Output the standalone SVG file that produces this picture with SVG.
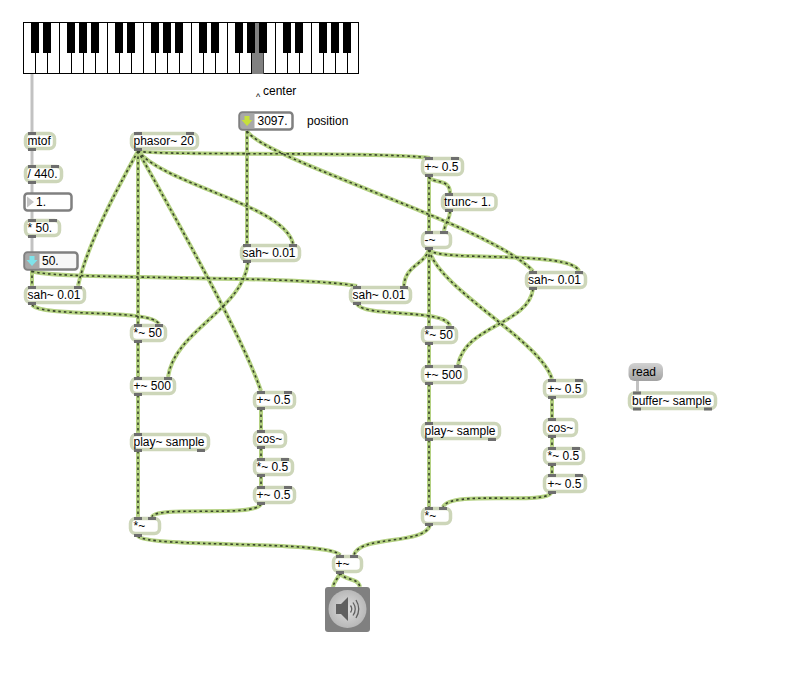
<svg xmlns="http://www.w3.org/2000/svg" width="785" height="675" viewBox="0 0 785 675">
<style>
text{font-family:"Liberation Sans",Arial,sans-serif;font-size:12px;fill:#000}
.b{fill:#fff;stroke:#cdd6b9;stroke-width:3.5}
.f{fill:#fff;stroke:#808080;stroke-width:2.5}
.p{fill:#6e6e6e}
.w{fill:#fff;stroke:#000;stroke-width:1}
.k{fill:#000}
.ln{stroke:#000;stroke-width:1;fill:none}
.sigbase{fill:none;stroke:#b4d182;stroke-width:4}
.sigdash{fill:none;stroke:#37432a;stroke-width:1.6;stroke-dasharray:2.5 3}
.ctl{fill:none;stroke:#c2c2c2;stroke-width:3}
</style>
<defs>
<linearGradient id="rd" x1="0" y1="0" x2="0" y2="1"><stop offset="0" stop-color="#d2d2d2"/><stop offset="1" stop-color="#a2a2a2"/></linearGradient>
<radialGradient id="sp" cx="0.5" cy="0.5" r="0.55"><stop offset="0" stop-color="#dedede"/><stop offset="1" stop-color="#b4b4b4"/></radialGradient>
</defs>
<rect width="785" height="675" fill="#fff"/>
<g id="connectors">
<g class="ctl">
<path d="M32 74V132"/><path d="M32 150V165"/><path d="M32 183V193"/><path d="M32 211V219"/><path d="M32 237V252"/><path d="M637.5 381V392"/>
</g>
<g class="sigbase"><g id="wires">
<path d="M138 151C150 156 380 151 430 158"/>
<path d="M138 151C125 175 88 240 78 286"/>
<path d="M138 151V324"/>
<path d="M138 151C165 200 240 330 261 391"/>
<path d="M138 151C165 185 285 205 293 244"/>
<path d="M247 131V244"/>
<path d="M247 131C265 160 490 225 533 271"/>
<path d="M32 270V286"/>
<path d="M32 271C45 280 300 275 357 286"/>
<path d="M32 305C45 318 150 308 159 324"/>
<path d="M138 343V377"/>
<path d="M248 262C243 310 175 330 168 377"/>
<path d="M138 395V433"/>
<path d="M138 451V517"/>
<path d="M261 409V430"/>
<path d="M261 448V458"/>
<path d="M261 476V486"/>
<path d="M261 504C255 518 155 505 152 517"/>
<path d="M138 536C145 548 330 540 340 555"/>
<path d="M430 525C425 545 360 535 354 555"/>
<path d="M340 573C338 579 334 581 333 587"/>
<path d="M340 573C344 581 358 577 360 587"/>
<path d="M429 176V231"/>
<path d="M429 177C433 184 450 178 450 193"/>
<path d="M450 211C450 220 445 222 444 231"/>
<path d="M429 249C425 265 405 265 404 286"/>
<path d="M429 249V326"/>
<path d="M429 250C440 262 570 250 579 271"/>
<path d="M429 250C440 290 540 340 552 379"/>
<path d="M357 304C365 318 445 308 450 326"/>
<path d="M533 289C528 325 465 325 458 365"/>
<path d="M429 344V365"/>
<path d="M429 384V422"/>
<path d="M429 440V507"/>
<path d="M552 398V418"/>
<path d="M552 437V447"/>
<path d="M552 465V474"/>
<path d="M551 493C545 505 450 490 443 507"/>
</g></g>
<use href="#wires" class="sigdash"/>
</g>
<g id="keyboard">
<rect x="23.5" y="22.5" width="335" height="51" class="w"/>
<path class="ln" d="M35.5 23V74M47.5 23V74M59.5 23V74M71.5 23V74M83.5 23V74M95.5 23V74M107.5 23V74M119.5 23V74M131.5 23V74M143.5 23V74M155.5 23V74M167.5 23V74M179.5 23V74M191.5 23V74M203.5 23V74M215.5 23V74M227.5 23V74M239.5 23V74M251.5 23V74M263.5 23V74M275.5 23V74M287.5 23V74M299.5 23V74M311.5 23V74M323.5 23V74M335.5 23V74M347.5 23V74"/>
<path fill="#808080" d="M252 53H255V23H259V53H263.5V74H252Z"/>
<path class="k" d="M31 23h8v30h-8zM43 23h8v30h-8zM67 23h8v30h-8zM79 23h8v30h-8zM91 23h8v30h-8zM115 23h8v30h-8zM127 23h8v30h-8zM151 23h8v30h-8zM163 23h8v30h-8zM175 23h8v30h-8zM199 23h8v30h-8zM211 23h8v30h-8zM235 23h8v30h-8zM247 23h8v30h-8zM259 23h8v30h-8zM283 23h8v30h-8zM295 23h8v30h-8zM319 23h8v30h-8zM331 23h8v30h-8zM343 23h8v30h-8z"/>
</g>
<g id="label-center"><text x="256" y="100"><tspan font-size="9">^</tspan><tspan x="263" y="95">center</tspan></text></g>
<g id="label-position"><text x="307" y="125">position</text></g>
<g id="n-mtof"><rect class="b" x="25.5" y="133.5" width="29" height="15" rx="5"/><rect class="p" x="28" y="132" width="8" height="3"/><rect class="p" x="28" y="148" width="8" height="3"/><text x="27.5" y="145">mtof</text></g>
<g id="n-div"><rect class="b" x="25.5" y="166.5" width="36" height="15" rx="5"/><rect class="p" x="28" y="165" width="8" height="3"/><rect class="p" x="51" y="165" width="8" height="3"/><rect class="p" x="28" y="181" width="8" height="3"/><text x="27.5" y="178">/ 440.</text></g>
<g id="n-flo1"><rect class="f" x="24.5" y="193.5" width="47" height="17" rx="3"/><path fill="#c4c4c4" d="M27 196.5L34 202L27 207.5Z"/><text x="36" y="206">1.</text></g>
<g id="n-mul"><rect class="b" x="25.5" y="220.5" width="34" height="15" rx="5"/><rect class="p" x="28" y="219" width="8" height="3"/><rect class="p" x="49" y="219" width="8" height="3"/><rect class="p" x="28" y="235" width="8" height="3"/><text x="27.5" y="232">* 50.</text></g>
<g id="n-flo50"><rect class="f" x="24.5" y="252.5" width="53" height="17" rx="3" style="fill:#f7f7f7"/><rect x="25.5" y="253.5" width="14" height="15" fill="#a8a8a8"/><path fill="#7fe3ea" d="M29.5 256H34.5V260H37.5L32 266L26.500 260H29.5Z"/><text x="42" y="265">50.</text></g>
<g id="n-sah1"><rect class="b" x="25.500" y="287.500" width="59" height="15" rx="5"/><rect class="p" x="28" y="286" width="8" height="3"/><rect class="p" x="74" y="286" width="8" height="3"/><rect class="p" x="28" y="302" width="8" height="3"/><text x="27.500" y="299">sah~ 0.01</text></g>
<g id="n-phasor"><rect class="b" x="131.500" y="133.500" width="66" height="15" rx="5"/><rect class="p" x="134" y="132" width="8" height="3"/><rect class="p" x="186" y="132" width="8" height="3"/><rect class="p" x="134" y="148" width="8" height="3"/><text x="133.500" y="145">phasor~ 20</text></g>
<g id="n-pos"><rect class="f" x="239.500" y="112.500" width="53" height="17" rx="3"/><rect x="240.500" y="113.500" width="14" height="15" fill="#a8a8a8"/><path fill="#c6e03c" d="M244.500 116H249.500V120H252.500L247 126L241.500 120H244.500Z"/><text x="257.500" y="125">3097.</text></g>
<g id="n-sah2"><rect class="b" x="241.500" y="245.500" width="58" height="15" rx="5"/><rect class="p" x="243" y="244" width="8" height="3"/><rect class="p" x="289" y="244" width="8" height="3"/><rect class="p" x="243" y="260" width="8" height="3"/><text x="242.500" y="257">sah~ 0.01</text></g>
<g id="n-mul1"><rect class="b" x="131.500" y="325.500" width="34" height="15" rx="5"/><rect class="p" x="134" y="324" width="8" height="3"/><rect class="p" x="155" y="324" width="8" height="3"/><rect class="p" x="134" y="340" width="8" height="3"/><text x="133.500" y="337">*~ 50</text></g>
<g id="n-add500"><rect class="b" x="131.500" y="378.500" width="43" height="15" rx="5"/><rect class="p" x="134" y="377" width="8" height="3"/><rect class="p" x="164" y="377" width="8" height="3"/><rect class="p" x="134" y="393" width="8" height="3"/><text x="133.500" y="390">+~ 500</text></g>
<g id="n-add05"><rect class="b" x="254.500" y="392.500" width="40" height="15" rx="5"/><rect class="p" x="257" y="391" width="8" height="3"/><rect class="p" x="284" y="391" width="8" height="3"/><rect class="p" x="257" y="407" width="8" height="3"/><text x="256.500" y="404">+~ 0.5</text></g>
<g id="n-play"><rect class="b" x="131.500" y="434.500" width="77" height="15" rx="5"/><rect class="p" x="134" y="433" width="8" height="3"/><rect class="p" x="134" y="449" width="8" height="3"/><rect class="p" x="197" y="449" width="8" height="3"/><text x="133.500" y="446">play~ sample</text></g>
<g id="n-cos"><rect class="b" x="254.500" y="431.500" width="31" height="15" rx="5"/><rect class="p" x="257" y="430" width="8" height="3"/><rect class="p" x="257" y="446" width="8" height="3"/><text x="256.500" y="443">cos~</text></g>
<g id="n-mul05"><rect class="b" x="254.500" y="459.500" width="38" height="15" rx="5"/><rect class="p" x="257" y="458" width="8" height="3"/><rect class="p" x="281" y="458" width="8" height="3"/><rect class="p" x="257" y="474" width="8" height="3"/><text x="256.500" y="471">*~ 0.5</text></g>
<g id="n-add05b"><rect class="b" x="254.500" y="487.500" width="40" height="15" rx="5"/><rect class="p" x="257" y="486" width="8" height="3"/><rect class="p" x="284" y="486" width="8" height="3"/><rect class="p" x="257" y="502" width="8" height="3"/><text x="256.500" y="499">+~ 0.5</text></g>
<g id="n-mulL"><rect class="b" x="130.500" y="518.500" width="29" height="15" rx="5"/><rect class="p" x="134" y="517" width="8" height="3"/><rect class="p" x="148" y="517" width="8" height="3"/><rect class="p" x="134" y="534" width="8" height="3"/><text x="133.500" y="530">*~</text></g>
<g id="n-sum"><rect class="b" x="333.500" y="556.500" width="28" height="15" rx="5"/><rect class="p" x="336" y="555" width="8" height="3"/><rect class="p" x="350" y="555" width="8" height="3"/><rect class="p" x="336" y="571" width="8" height="3"/><text x="335.500" y="568">+~</text></g>
<g id="n-dac"><rect x="325" y="587" width="45" height="45" rx="3" fill="#808080"/><circle cx="347.500" cy="609" r="19" fill="url(#sp)"/><path fill="#606060" d="M336 604H341L348 597V621L341 614H336Z"/><path d="M350.500 605.500Q353 609 350.500 612.500M353 602.500Q357.500 609 353 615.500M356 600Q361.500 609 356 618" fill="none" stroke="#606060" stroke-width="1.300"/></g>
<g id="n-addR"><rect class="b" x="422.500" y="158.500" width="40" height="16" rx="5"/><rect class="p" x="425" y="157" width="8" height="3"/><rect class="p" x="451" y="157" width="8" height="3"/><rect class="p" x="425" y="174" width="8" height="3"/><text x="424.500" y="171">+~ 0.5</text></g>
<g id="n-trunc"><rect class="b" x="442.500" y="194.500" width="53.500" height="15" rx="5"/><rect class="p" x="445" y="193" width="8" height="3"/><rect class="p" x="445" y="209" width="8" height="3"/><text x="444" y="206">trunc~ 1.</text></g>
<g id="n-sub"><rect class="b" x="422.500" y="232.500" width="28" height="15" rx="5"/><rect class="p" x="425" y="231" width="8" height="3"/><rect class="p" x="440" y="231" width="8" height="3"/><rect class="p" x="425" y="247" width="8" height="3"/><text x="424.500" y="244">-~</text></g>
<g id="n-sahR"><rect class="b" x="526.500" y="272.500" width="59" height="15" rx="5"/><rect class="p" x="529" y="271" width="8" height="3"/><rect class="p" x="575" y="271" width="8" height="3"/><rect class="p" x="529" y="287" width="8" height="3"/><text x="528" y="284">sah~ 0.01</text></g>
<g id="n-sahM"><rect class="b" x="350.500" y="287.500" width="60" height="15" rx="5"/><rect class="p" x="353" y="286" width="8" height="3"/><rect class="p" x="400" y="286" width="8" height="3"/><rect class="p" x="353" y="302" width="8" height="3"/><text x="352.500" y="299">sah~ 0.01</text></g>
<g id="n-mulR"><rect class="b" x="422.500" y="327.500" width="34" height="15" rx="5"/><rect class="p" x="425" y="326" width="8" height="3"/><rect class="p" x="446" y="326" width="8" height="3"/><rect class="p" x="425" y="342" width="8" height="3"/><text x="424.500" y="339">*~ 50</text></g>
<g id="n-add500R"><rect class="b" x="422.500" y="366.500" width="43.500" height="16" rx="5"/><rect class="p" x="425" y="365" width="8" height="3"/><rect class="p" x="454" y="365" width="8" height="3"/><rect class="p" x="425" y="382" width="8" height="3"/><text x="424.500" y="379">+~ 500</text></g>
<g id="n-addbR"><rect class="b" x="544.500" y="380.500" width="41" height="16" rx="5"/><rect class="p" x="548" y="379" width="8" height="3"/><rect class="p" x="575" y="379" width="8" height="3"/><rect class="p" x="548" y="396" width="8" height="3"/><text x="547.500" y="393">+~ 0.5</text></g>
<g id="n-playR"><rect class="b" x="422.500" y="423.500" width="77" height="15" rx="5"/><rect class="p" x="425" y="422" width="8" height="3"/><rect class="p" x="425" y="438" width="8" height="3"/><rect class="p" x="488" y="438" width="8" height="3"/><text x="424.500" y="435">play~ sample</text></g>
<g id="n-cosR"><rect class="b" x="544.500" y="419.500" width="32" height="16" rx="5"/><rect class="p" x="548" y="418" width="8" height="3"/><rect class="p" x="548" y="435" width="8" height="3"/><text x="547.500" y="432">cos~</text></g>
<g id="n-mulbR"><rect class="b" x="544.500" y="448.500" width="39" height="15" rx="5"/><rect class="p" x="548" y="447" width="8" height="3"/><rect class="p" x="572" y="447" width="8" height="3"/><rect class="p" x="548" y="463" width="8" height="3"/><text x="547.500" y="460">*~ 0.5</text></g>
<g id="n-addcR"><rect class="b" x="544.500" y="475.500" width="41" height="16" rx="5"/><rect class="p" x="548" y="474" width="8" height="3"/><rect class="p" x="575" y="474" width="8" height="3"/><rect class="p" x="548" y="491" width="8" height="3"/><text x="547.500" y="488">+~ 0.5</text></g>
<g id="n-mulLR"><rect class="b" x="422.500" y="508.500" width="28" height="15" rx="5"/><rect class="p" x="425" y="507" width="8" height="3"/><rect class="p" x="439" y="507" width="8" height="3"/><rect class="p" x="425" y="523" width="8" height="3"/><text x="424.500" y="520">*~</text></g>
<g id="n-read"><rect x="628.500" y="363" width="34.500" height="18" rx="6" fill="url(#rd)"/><text x="632" y="376">read</text></g>
<g id="n-buffer"><rect class="b" x="629.500" y="393" width="86" height="15.500" rx="5"/><rect class="p" x="633" y="391.500" width="8" height="3"/><rect class="p" x="633" y="407.500" width="8" height="3"/><rect class="p" x="704" y="407.500" width="8" height="3"/><text x="632" y="405">buffer~ sample</text></g>
</svg>
